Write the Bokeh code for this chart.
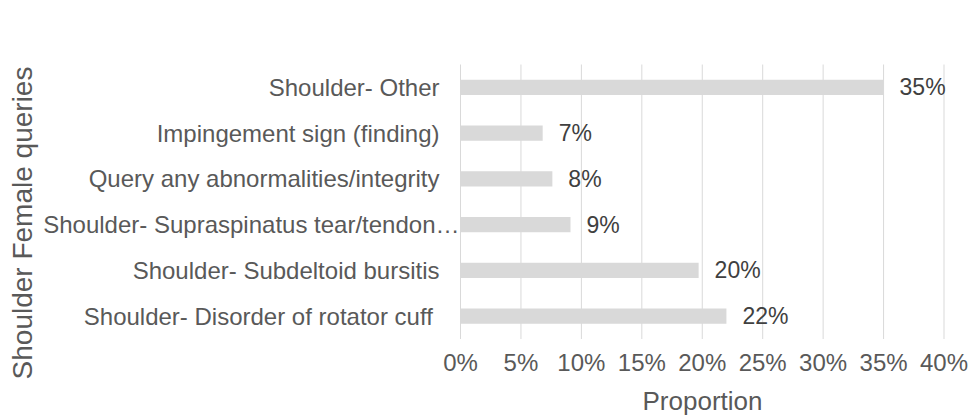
import math
from bokeh.plotting import figure
from bokeh.models import (ColumnDataSource, Range1d, FixedTicker,
                          NumeralTickFormatter, LinearAxis)
from bokeh.core.properties import value
from bokeh.embed import file_html
from bokeh.resources import INLINE

# ---- data (top to bottom as shown) ----
categories = [
    "Shoulder- Other",
    "Impingement sign (finding)",
    "Query any abnormalities/integrity",
    "Shoulder- Supraspinatus tear/tendon\u2026",
    "Shoulder- Subdeltoid bursitis",
    "Shoulder- Disorder of rotator cuff ",
]
proportions = [0.350, 0.068, 0.076, 0.091, 0.197, 0.220]
value_labels = ["35%", "7%", "8%", "9%", "20%", "22%"]
x_ticks = [0.0, 0.05, 0.10, 0.15, 0.20, 0.25, 0.30, 0.35, 0.40]
x_title = "Proportion"
y_title = "Shoulder Female queries"

# ---- layout / style (pixels) ----
W, H = 969, 419
PLOT_L, PLOT_R, PLOT_T, PLOT_B = 460, 943.5, 64, 338.5
X_MAX = 0.40
label_pad = [-21, -21, -21, -1, -21, -21]   # truncated label runs up to the axis
FONT = "Liberation Sans"
GREY_TXT = "#595959"
DARK_TXT = "#404040"
GRID = "#d9d9d9"
BAR = "#d9d9d9"

n = len(categories)
px_x = (PLOT_R - PLOT_L) / X_MAX
px_y = (PLOT_B - PLOT_T) / n
x_range = Range1d(-PLOT_L / px_x, X_MAX + (W - PLOT_R) / px_x)
y_range = Range1d(-(H - PLOT_B) / px_y, n + PLOT_T / px_y)

ypos = [n - 1 - i + 0.5 for i in range(n)]
src = ColumnDataSource(dict(y=ypos, cat=categories, val=proportions,
                            lab=value_labels, zero=[0.0] * n, pad=label_pad))

p = figure(width=W, height=H, x_range=x_range, y_range=y_range,
           x_axis_type=None, y_axis_type=None, min_border=0,
           output_backend="svg", toolbar_location=None)
p.title.visible = False
p.outline_line_color = None
p.background_fill_color = "white"
p.border_fill_color = "white"

# vertical gridlines over the plot area
p.segment(x0=x_ticks, y0=[0] * len(x_ticks), x1=x_ticks, y1=[n] * len(x_ticks),
          line_color=GRID, line_width=1)

# bars
p.hbar(y="y", right="val", left=0, height=0.33, source=src,
       fill_color=BAR, line_color=None)

# x axis (tick labels + title) pinned to the bottom of the plot area
xa = LinearAxis(fixed_location=0, bounds=(0, X_MAX))
xa.ticker = FixedTicker(ticks=x_ticks)
xa.formatter = NumeralTickFormatter(format="0%")
xa.axis_line_color = None
xa.major_tick_line_color = None
xa.minor_tick_line_color = None
xa.major_label_standoff = 4
xa.major_label_text_font = FONT
xa.major_label_text_font_size = "24px"
xa.major_label_text_color = GREY_TXT
xa.axis_label = x_title
xa.axis_label_standoff = 6
xa.axis_label_text_font = FONT
xa.axis_label_text_font_size = "26px"
xa.axis_label_text_font_style = "normal"
xa.axis_label_text_color = GREY_TXT
p.add_layout(xa, "below")

# value labels
p.text(x="val", y="y", text="lab", source=src, x_offset=16,
       text_baseline="middle", text_align="left",
       text_font=value(FONT), text_font_size="23px", text_color=DARK_TXT)

# category labels
p.text(x="zero", y="y", text="cat", source=src, x_offset="pad",
       text_baseline="middle", text_align="right",
       text_font=value(FONT), text_font_size="24px", text_color=GREY_TXT)

# y-axis title (rotated)
title_y = (PLOT_B - 222.5) / px_y
p.text(x=[0], y=[title_y], text=[y_title], x_offset=-438, angle=math.pi / 2,
       text_baseline="middle", text_align="center",
       text_font=value(FONT), text_font_size="28px", text_color=GREY_TXT)

open("out.html", "w").write(file_html(p, INLINE))
